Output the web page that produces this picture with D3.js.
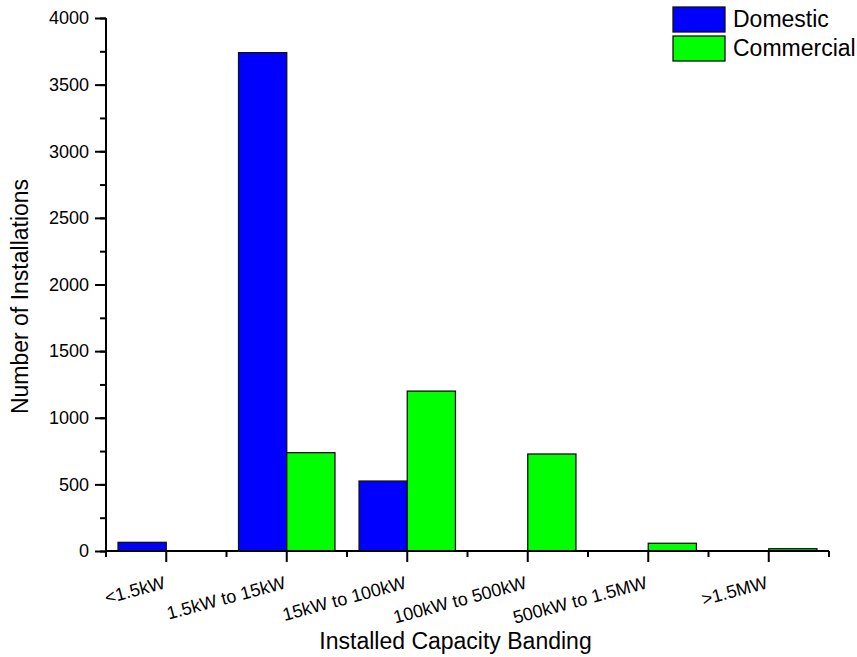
<!DOCTYPE html>
<html>
<head>
<meta charset="utf-8">
<script src="https://cdn.jsdelivr.net/npm/d3@7"></script>
<style>
  body { margin: 0; background: #fff; }
  text { font-family: "Liberation Sans", Arial, sans-serif; }
</style>
</head>
<body>
<div id="chart"></div>
<script>
const categories = ["<1.5kW", "1.5kW to 15kW", "15kW to 100kW", "100kW to 500kW", "500kW to 1.5MW", ">1.5MW"];
const domestic = [65, 3740, 525, 0, 0, 0];
const commercial = [0, 738, 1200, 728, 58, 17];
const seriesNames = ["Domestic", "Commercial"];
const colors = ["#0000ff", "#00ff00"];
const yTicks = [0, 500, 1000, 1500, 2000, 2500, 3000, 3500, 4000];

const width = 857;
const height = 657;
const margin = { top: 18, right: 28, bottom: 106, left: 106 };

const svg = d3.select("#chart")
    .append("svg")
    .attr("width", width)
    .attr("height", height);

const x = d3.scaleBand()
    .domain(categories)
    .range([margin.left, width - margin.right])
    .paddingInner(0.2)
    .paddingOuter(0.1);

const x1 = d3.scaleBand()
    .domain(seriesNames)
    .range([0, x.bandwidth()]);

const y = d3.scaleLinear()
    .domain([0, 4000])
    .range([height - margin.bottom, margin.top]);

const rows = categories.map((c, i) => ({ cat: c, values: [domestic[i], commercial[i]] }));

// bars
svg.append("g")
    .selectAll("g")
    .data(rows)
    .join("g")
        .attr("transform", d => `translate(${x(d.cat)},0)`)
    .selectAll("rect")
    .data(d => d.values.map((v, j) => ({ key: seriesNames[j], value: v, j })))
    .join("rect")
        .attr("x", d => x1(d.key))
        .attr("y", d => y(d.value))
        .attr("width", x1.bandwidth())
        .attr("height", d => y(0) - y(d.value))
        .attr("fill", d => colors[d.j])
        .attr("stroke", "#111")
        .attr("stroke-width", 1.3);

// y axis
const yAxisG = svg.append("g")
    .attr("transform", `translate(${margin.left},0)`);
yAxisG.call(d3.axisLeft(y).tickValues(d3.range(0, 4001, 250)).tickSize(6).tickFormat(""))
    .call(g => g.select(".domain").remove())
    .selectAll("line").attr("stroke-width", 2);
yAxisG.append("g")
    .call(d3.axisLeft(y).tickValues(yTicks).tickSize(11).tickPadding(6).tickFormat(d3.format("d")))
    .call(g => g.select(".domain").attr("d", `M0,${y(0)}V${y(4000)}`).attr("stroke-width", 2))
    .call(g => g.selectAll("line").attr("stroke-width", 2))
    .call(g => g.selectAll("text").attr("font-size", 18).attr("fill", "#000")
        .attr("font-family", "Liberation Sans, Arial, sans-serif"));

// x axis
const xAxisG = svg.append("g")
    .attr("transform", `translate(0,${y(0)})`);
const step = x.step();
const bounds = categories.map(c => x(c) + x.bandwidth() / 2 - step / 2).concat([x(categories[categories.length - 1]) + x.bandwidth() / 2 + step / 2]);
xAxisG.append("path")
    .attr("d", `M${bounds[0]},0H${bounds[bounds.length - 1]}`)
    .attr("stroke", "#000")
    .attr("stroke-width", 2);
xAxisG.selectAll(".minor")
    .data(bounds)
    .join("line")
        .attr("x1", d => d).attr("x2", d => d)
        .attr("y1", 0).attr("y2", 6)
        .attr("stroke", "#000").attr("stroke-width", 2);
xAxisG.selectAll(".major")
    .data(categories)
    .join("line")
        .attr("x1", d => x(d) + x.bandwidth() / 2).attr("x2", d => x(d) + x.bandwidth() / 2)
        .attr("y1", 0).attr("y2", 11)
        .attr("stroke", "#000").attr("stroke-width", 2);
xAxisG.selectAll(".lbl")
    .data(categories)
    .join("text")
        .attr("transform", d => `translate(${x(d) + x.bandwidth() / 2},37) rotate(-15)`)
        .attr("text-anchor", "end")
        .attr("font-size", 18)
        .text(d => d);

// axis titles
svg.append("text")
    .attr("x", (bounds[0] + bounds[bounds.length - 1]) / 2 - 12)
    .attr("y", 649)
    .attr("text-anchor", "middle")
    .attr("font-size", 23)
    .text("Installed Capacity Banding");

svg.append("text")
    .attr("transform", `translate(28,${(y(0) + y(4000)) / 2 + 12}) rotate(-90)`)
    .attr("text-anchor", "middle")
    .attr("font-size", 23)
    .text("Number of Installations");

// legend
const legend = svg.append("g")
    .attr("transform", "translate(673,7)");
legend.selectAll("rect")
    .data(seriesNames)
    .join("rect")
        .attr("x", 0)
        .attr("y", (d, i) => i * 29)
        .attr("width", 52)
        .attr("height", 25)
        .attr("fill", (d, i) => colors[i])
        .attr("stroke", "#111")
        .attr("stroke-width", 1.3);
legend.selectAll("text")
    .data(seriesNames)
    .join("text")
        .attr("x", 60)
        .attr("y", (d, i) => i * 29 + 20)
        .attr("font-size", 23)
        .text(d => d);
</script>
</body>
</html>
